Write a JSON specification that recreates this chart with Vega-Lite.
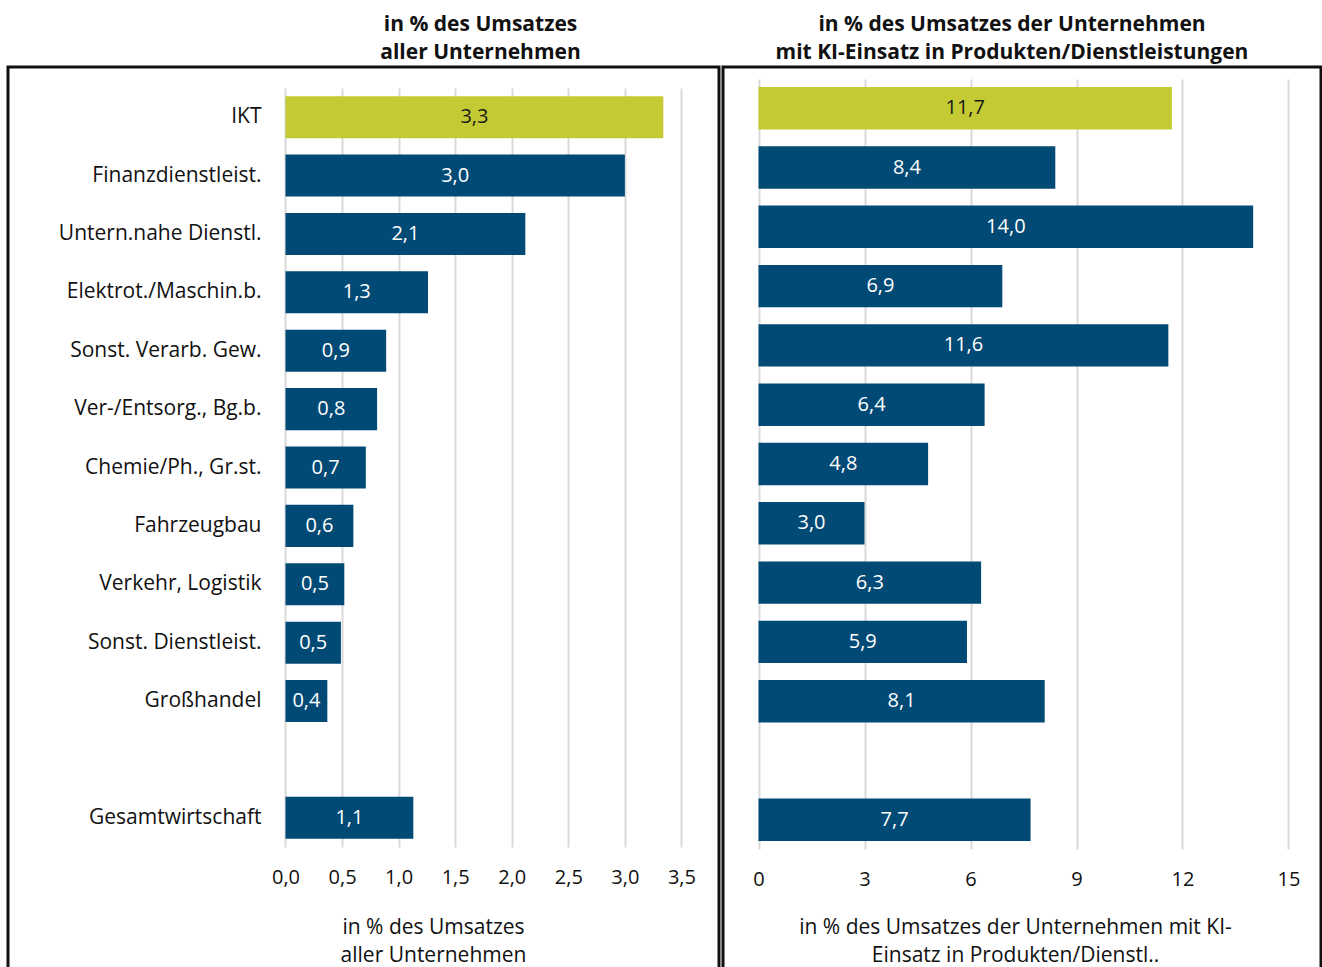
{
  "$schema": "https://vega.github.io/schema/vega-lite/v6.json",
  "padding": {"left": 6, "top": 12, "right": 0, "bottom": 0},
  "background": "white",
  "config": {
    "locale": {"number": {"decimal": ",", "thousands": ".", "grouping": [3], "currency": ["", " €"]}},
    "font": "Open Sans",
    "view": {"stroke": "#111111", "strokeWidth": 3},
    "concat": {"spacing": 0},
    "title": {"font": "Open Sans", "fontSize": 21, "fontWeight": "bold", "color": "#111111", "lineHeight": 28, "offset": 4},
    "axis": {"labelFont": "Open Sans", "labelFontSize": 20, "labelColor": "#111111", "titleFont": "Open Sans", "titleFontSize": 21, "titleFontWeight": "normal", "titleColor": "#111111", "titleLineHeight": 28, "domain": false, "ticks": false, "grid": false}
  },
  "datasets": {
    "d": [
      {"cat": "IKT", "all": 3.34, "ki": 11.7},
      {"cat": "Finanzdienstleist.", "all": 3.0, "ki": 8.4},
      {"cat": "Untern.nahe Dienstl.", "all": 2.12, "ki": 14.0},
      {"cat": "Elektrot./Maschin.b.", "all": 1.26, "ki": 6.9},
      {"cat": "Sonst. Verarb. Gew.", "all": 0.89, "ki": 11.6},
      {"cat": "Ver-/Entsorg., Bg.b.", "all": 0.81, "ki": 6.4},
      {"cat": "Chemie/Ph., Gr.st.", "all": 0.71, "ki": 4.8},
      {"cat": "Fahrzeugbau", "all": 0.6, "ki": 3.0},
      {"cat": "Verkehr, Logistik", "all": 0.52, "ki": 6.3},
      {"cat": "Sonst. Dienstleist.", "all": 0.49, "ki": 5.9},
      {"cat": "Großhandel", "all": 0.37, "ki": 8.1},
      {"cat": "Gesamtwirtschaft", "all": 1.13, "ki": 7.7}
    ]
  },
  "hconcat": [
    {
      "width": 711,
      "height": 905,
      "title": {"text": ["in % des Umsatzes", "aller Unternehmen"], "dx": 117},
      "data": {"name": "d"},
      "resolve": {"scale": {"x": "independent"}},
      "encoding": {
        "y": {
          "field": "cat", "type": "nominal", "sort": null,
          "scale": {"domain": ["IKT", "Finanzdienstleist.", "Untern.nahe Dienstl.", "Elektrot./Maschin.b.", "Sonst. Verarb. Gew.", "Ver-/Entsorg., Bg.b.", "Chemie/Ph., Gr.st.", "Fahrzeugbau", "Verkehr, Logistik", "Sonst. Dienstleist.", "Großhandel", " ", "Gesamtwirtschaft"], "range": [21, 780], "paddingInner": 0.28, "paddingOuter": 0.14},
          "axis": {"offset": -277, "labelPadding": 24, "labelFontSize": 21, "title": null, "labelLimit": 300}
        }
      },
      "layer": [
        {
          "mark": {"type": "bar"},
          "encoding": {
            "x": {
              "field": "all", "type": "quantitative",
              "scale": {"domain": [-2.4527, 3.832], "nice": false, "zero": false},
              "axis": {"orient": "top", "values": [0, 0.5, 1, 1.5, 2, 2.5, 3, 3.5], "format": ".1f", "offset": -830, "labelPadding": 10, "grid": true, "gridColor": "#d9d9d9", "gridWidth": 2, "title": ["in % des Umsatzes", "aller Unternehmen"], "titleX": 425, "titleY": 19, "titleBaseline": "top", "titleAlign": "center"}
            },
            "x2": {"datum": 0},
            "color": {"condition": {"test": "datum.cat === 'IKT'", "value": "#c3ca33"}, "value": "#004a75"}
          }
        },
        {
          "mark": {"type": "text", "fontSize": 20, "align": "center", "baseline": "middle"},
          "encoding": {
            "x": {"field": "all", "type": "quantitative", "scale": {"domain": [-4.9054, 7.664], "nice": false, "zero": false}, "axis": null},
            "text": {"field": "all", "type": "quantitative", "format": ".1f"},
            "color": {"condition": {"test": "datum.cat === 'IKT'", "value": "#1a1a1a"}, "value": "#ffffff"}
          }
        }
      ]
    },
    {
      "width": 598,
      "height": 905,
      "title": {"text": ["in % des Umsatzes der Unternehmen", "mit KI-Einsatz in Produkten/Dienstleistungen"], "dx": -10},
      "data": {"name": "d"},
      "resolve": {"scale": {"x": "independent"}},
      "encoding": {
        "y": {
          "field": "cat", "type": "nominal", "sort": null,
          "scale": {"domain": ["IKT", "Finanzdienstleist.", "Untern.nahe Dienstl.", "Elektrot./Maschin.b.", "Sonst. Verarb. Gew.", "Ver-/Entsorg., Bg.b.", "Chemie/Ph., Gr.st.", "Fahrzeugbau", "Verkehr, Logistik", "Sonst. Dienstleist.", "Großhandel", " ", "Gesamtwirtschaft"], "range": [12, 782], "paddingInner": 0.285, "paddingOuter": 0.135},
          "axis": null
        }
      },
      "layer": [
        {
          "mark": {"type": "bar"},
          "encoding": {
            "x": {
              "field": "ki", "type": "quantitative",
              "scale": {"domain": [-1.005, 15.92], "nice": false, "zero": false},
              "axis": {"orient": "top", "values": [0, 3, 6, 9, 12, 15], "format": "d", "offset": -832, "labelPadding": 10, "grid": true, "gridColor": "#d9d9d9", "gridWidth": 2, "title": ["in % des Umsatzes der Unternehmen mit KI-", "Einsatz in Produkten/Dienstl.."], "titleX": 292, "titleY": 17, "titleBaseline": "top", "titleAlign": "center"}
            },
            "x2": {"datum": 0},
            "color": {"condition": {"test": "datum.cat === 'IKT'", "value": "#c3ca33"}, "value": "#004a75"}
          }
        },
        {
          "mark": {"type": "text", "fontSize": 20, "align": "center", "baseline": "middle"},
          "encoding": {
            "x": {"field": "ki", "type": "quantitative", "scale": {"domain": [-2.01, 31.84], "nice": false, "zero": false}, "axis": null},
            "text": {"field": "ki", "type": "quantitative", "format": ".1f"},
            "color": {"condition": {"test": "datum.cat === 'IKT'", "value": "#1a1a1a"}, "value": "#ffffff"}
          }
        }
      ]
    }
  ]
}
